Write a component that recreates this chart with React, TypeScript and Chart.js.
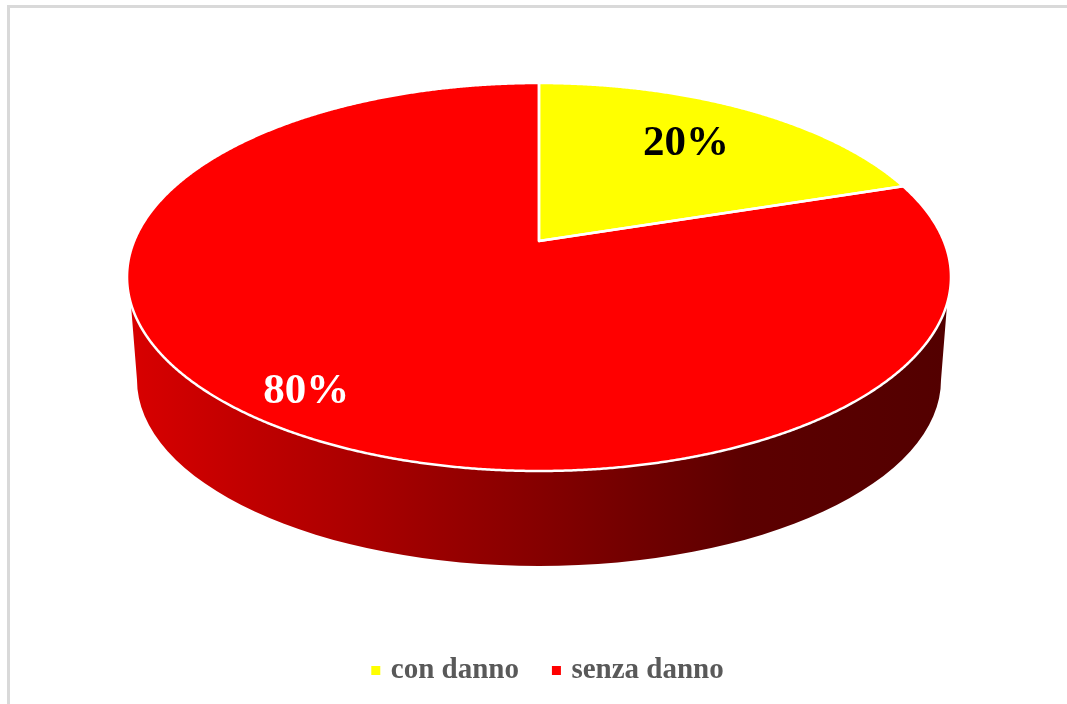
import React, { useEffect, useRef } from "react";
import { Chart, registerables } from "chart.js";

Chart.register(...registerables);

const categories = ["con danno", "senza danno"];
const shares = [20, 80];
const sliceColors = ["#FFFF00", "#FF0000"];
const labelColors = ["#000000", "#FFFFFF"];

const FONT = "'Liberation Serif', 'Times New Roman', serif";

// Perspective of the tilted disc: unit disc (u, v) -> canvas pixels.
const view = { apexX: 539, apexY: 241, scaleX: 404.8, scaleY: 187.3, tilt: -0.1856 };
const project = (u: number, v: number) => {
  const w = 1 + view.tilt * v;
  return { x: view.apexX + (view.scaleX * u) / w, y: view.apexY + (view.scaleY * v) / w };
};
const polar = (angle: number, r: number) => project(r * Math.cos(angle), r * Math.sin(angle));

// Where each percentage sits: fraction along the slice and fraction of the radius.
const labelAnchors = [
  { along: 0.476, radius: 0.715 },
  { along: 0.5, radius: 0.853 },
];

const slicePath = (ctx: CanvasRenderingContext2D, startAngle: number, endAngle: number) => {
  const apex = project(0, 0);
  ctx.beginPath();
  ctx.moveTo(apex.x, apex.y);
  const steps = Math.ceil((endAngle - startAngle) / (Math.PI / 720));
  for (let s = 0; s <= steps; s++) {
    const p = polar(startAngle + ((endAngle - startAngle) * s) / steps, 1);
    ctx.lineTo(p.x, p.y);
  }
  ctx.closePath();
};

const disc3d = {
  id: "disc3d",
  beforeDatasetsDraw(chart: any) {
    const ctx: CanvasRenderingContext2D = chart.ctx;
    const arcs = chart.getDatasetMeta(0).data;
    ctx.save();

    // Side wall
    const left = { x: 131, y: 305 };
    const right = { x: 947, y: 305 };
    const base = { x: 539, y: 380, rx: 402, ry: 186 };
    const grad = ctx.createLinearGradient(left.x, 0, right.x, 0);
    grad.addColorStop(0, "#D80000");
    grad.addColorStop(0.75, "#5C0000");
    grad.addColorStop(1, "#530000");
    ctx.beginPath();
    ctx.moveTo(left.x, left.y);
    ctx.lineTo(base.x - base.rx, base.y);
    ctx.ellipse(base.x, base.y, base.rx, base.ry, 0, Math.PI, 0, true);
    ctx.lineTo(right.x, right.y);
    ctx.lineTo(view.apexX, view.apexY);
    ctx.closePath();
    ctx.fillStyle = grad;
    ctx.fill();

    // Top face
    arcs.forEach((arc: any, i: number) => {
      const { startAngle, endAngle } = arc.getProps(["startAngle", "endAngle"], true);
      slicePath(ctx, startAngle, endAngle);
      ctx.fillStyle = sliceColors[i];
      ctx.fill();
    });
    arcs.forEach((arc: any) => {
      const { startAngle, endAngle } = arc.getProps(["startAngle", "endAngle"], true);
      slicePath(ctx, startAngle, endAngle);
      ctx.strokeStyle = "#FFFFFF";
      ctx.lineWidth = 2.5;
      ctx.lineJoin = "round";
      ctx.stroke();
    });

    // Percentages
    const total = shares.reduce((a, b) => a + b, 0);
    ctx.font = `bold 43px ${FONT}`;
    ctx.textAlign = "center";
    ctx.textBaseline = "middle";
    arcs.forEach((arc: any, i: number) => {
      const { startAngle, endAngle } = arc.getProps(["startAngle", "endAngle"], true);
      const anchor = labelAnchors[i];
      const p = polar(startAngle + (endAngle - startAngle) * anchor.along, anchor.radius);
      ctx.fillStyle = labelColors[i];
      ctx.fillText(`${Math.round((shares[i] / total) * 100)}%`, p.x, p.y + 3);
    });
    ctx.restore();
    return false;
  },
};

export default function App() {
  const ref = useRef<HTMLCanvasElement>(null);
  useEffect(() => {
    const chart = new Chart(ref.current!, {
      type: "pie",
      data: {
        labels: categories,
        datasets: [{ data: shares, backgroundColor: sliceColors, borderColor: "#FFFFFF", borderWidth: 2 }],
      },
      options: {
        animation: false,
        responsive: false,
        rotation: 0,
        layout: { padding: { left: 32, bottom: 9 } },
        plugins: {
          tooltip: { enabled: false },
          legend: {
            display: true,
            position: "bottom",
            labels: {
              boxWidth: 1,
              boxHeight: 1,
              padding: 37,
              color: "#595959",
              font: { family: FONT, size: 29, weight: "bold" },
              generateLabels: () =>
                categories.map((text, i) => ({
                  text,
                  fillStyle: sliceColors[i],
                  strokeStyle: sliceColors[i],
                  lineWidth: 8,
                  fontColor: "#595959",
                  hidden: false,
                  index: i,
                })),
            },
          },
        },
      } as any,
      plugins: [disc3d],
    });
    return () => chart.destroy();
  }, []);

  return (
    <div style={{ position: "fixed", left: 0, top: 0, width: 1067, height: 704, overflow: "hidden", background: "#fff" }}>
      <div
        style={{
          position: "absolute",
          left: 7,
          top: 5,
          width: 2000,
          height: 2000,
          borderLeft: "3px solid #D9D9D9",
          borderTop: "3px solid #D9D9D9",
        }}
      />
      <canvas ref={ref} width={1067} height={704} style={{ position: "absolute", left: 0, top: 0 }} />
    </div>
  );
}
